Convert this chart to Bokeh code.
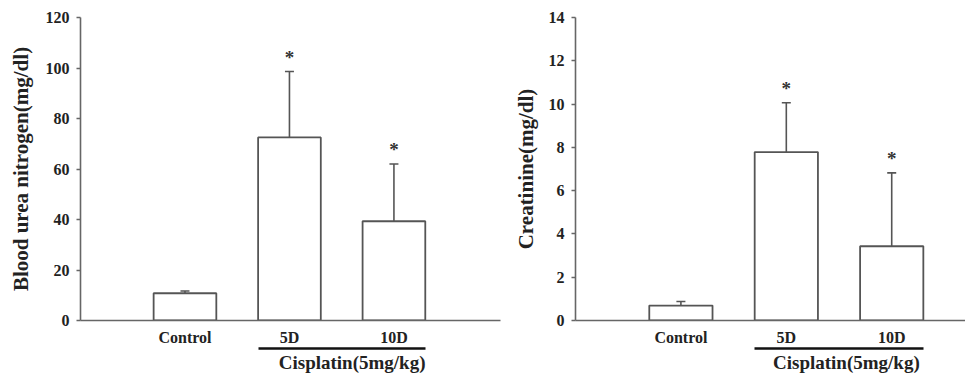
from bokeh.plotting import figure
from bokeh.models import ColumnDataSource, Whisker, TeeHead, FixedTicker, LinearAxis, Range1d
from bokeh.layouts import row
from bokeh.embed import file_html
from bokeh.resources import INLINE
from bokeh.core.properties import value

# ---- data ----
groups = ["Control", "5D", "10D"]
x_pos = [1, 2, 3]
bun_mean = [10.8, 72.5, 39.3]
bun_err = [0.9, 26.1, 22.7]
cre_mean = [0.69, 7.78, 3.43]
cre_err = [0.19, 2.28, 3.39]
bun_ticks = [0, 20, 40, 60, 80, 100, 120]
cre_ticks = [0, 2, 4, 6, 8, 10, 12, 14]
significant = [False, True, True]
group_label = "Cisplatin(5mg/kg)"
group_members = [2, 3]

FONT = "Liberation Serif"
TXT = "#222222"
AX = "#666666"
BAR = "#555555"


def panel(means, errs, ticks, ylabel, width, border_left, border_right,
          x_end, group_x, ylabel_standoff):
    p = figure(width=width, height=376, output_backend="svg", toolbar_location=None,
               x_range=Range1d(0, x_end), y_range=Range1d(ticks[0], ticks[-1]),
               min_border_left=border_left, min_border_right=border_right,
               min_border_top=17, min_border_bottom=56)
    p.outline_line_color = None
    p.grid.visible = False
    p.background_fill_color = "white"
    p.border_fill_color = "white"

    tops = [m + e for m, e in zip(means, errs)]
    src = ColumnDataSource(dict(x=x_pos, top=means, upper=tops, label=groups))
    p.vbar(x="x", top="top", bottom=0, width=0.6, source=src,
           fill_color="white", line_color=BAR, line_width=1.8)
    w = Whisker(base="x", lower="top", upper="upper", source=src,
                lower_head=None,
                upper_head=TeeHead(size=9, line_color=BAR, line_width=1.6),
                line_color=BAR, line_width=1.6)
    p.add_layout(w)

    sx = [x for x, s in zip(x_pos, significant) if s]
    sy = [t for t, s in zip(tops, significant) if s]
    p.text(x=sx, y=sy, text=["*"] * len(sx), text_font=value(FONT),
           text_font_style="bold", text_font_size="19px", text_color="#333333",
           text_align="center", text_baseline="alphabetic", y_offset=-14)

    # axes
    ya = p.yaxis[0]
    ya.ticker = FixedTicker(ticks=ticks)
    ya.minor_tick_line_color = None
    ya.major_tick_in = 0
    ya.major_tick_out = 4
    ya.major_label_standoff = 7
    ya.axis_line_color = AX
    ya.major_tick_line_color = AX
    ya.axis_line_width = 1.6
    ya.major_tick_line_width = 1.4
    ya.major_label_text_font = FONT
    ya.major_label_text_font_style = "bold"
    ya.major_label_text_font_size = "16px"
    ya.major_label_text_color = TXT
    ya.axis_label = ylabel
    ya.axis_label_text_font = FONT
    ya.axis_label_text_font_style = "bold"
    ya.axis_label_text_font_size = "21px"
    ya.axis_label_text_color = TXT
    ya.axis_label_standoff = ylabel_standoff

    xa = p.xaxis[0]
    xa.ticker = FixedTicker(ticks=x_pos)
    xa.major_label_overrides = {x: g for x, g in zip(x_pos, groups)}
    xa.minor_tick_line_color = None
    xa.major_tick_line_color = None
    xa.major_tick_in = 0
    xa.major_tick_out = 0
    xa.major_label_standoff = 8
    xa.axis_line_color = AX
    xa.axis_line_width = 1.6
    xa.major_label_text_font = FONT
    xa.major_label_text_font_style = "bold"
    xa.major_label_text_font_size = "16px"
    xa.major_label_text_color = TXT

    # group axis: underline spanning the cisplatin groups, with its label
    x0 = group_members[0] - 0.3
    x1 = group_members[-1] + 0.3
    ga = LinearAxis(bounds=(x0, x1), ticker=FixedTicker(ticks=[group_x]),
                    major_label_overrides={group_x: group_label})
    ga.axis_line_color = "#111111"
    ga.axis_line_width = 2.5
    ga.major_tick_line_color = None
    ga.minor_tick_line_color = None
    ga.major_tick_in = 0
    ga.major_tick_out = 0
    ga.major_label_standoff = 3
    ga.major_label_text_font = FONT
    ga.major_label_text_font_style = "bold"
    ga.major_label_text_font_size = "19px"
    ga.major_label_text_color = TXT
    p.add_layout(ga, "below")
    return p


p1 = panel(bun_mean, bun_err, bun_ticks, "Blood urea nitrogen(mg/dl)",
           502, 80, 2, 4.02, 2.6, 10)
p2 = panel(cre_mean, cre_err, cre_ticks, "Creatinine(mg/dl)",
           463, 73, 0, 3.7, 2.57, 8)

layout = row(p1, p2)
open("out.html", "w").write(file_html(layout, INLINE))
